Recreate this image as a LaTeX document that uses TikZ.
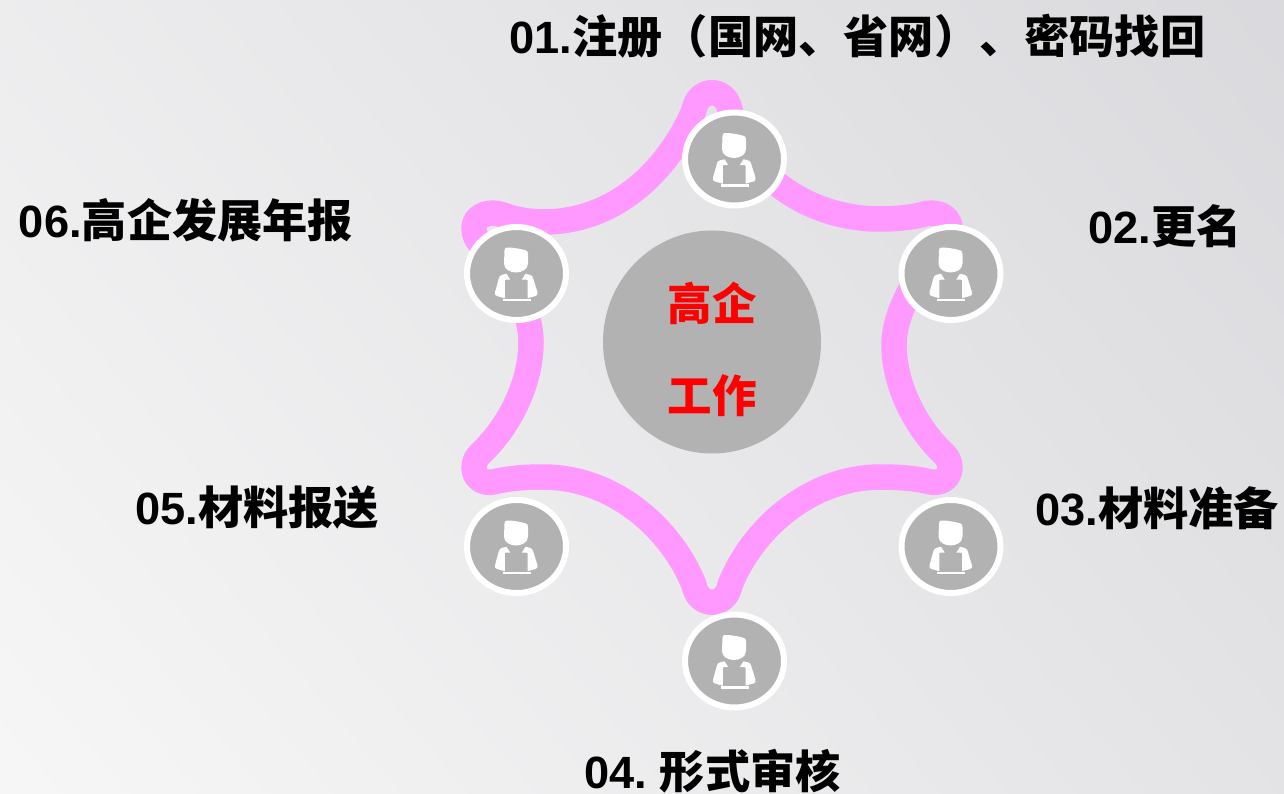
\documentclass[tikz,border=0pt]{standalone}
\usepackage{fontspec}
\usetikzlibrary{shapes.geometric}
\setmainfont{Liberation Sans}
\newfontfamily\cjk{Noto Sans CJK SC}
\definecolor{pinkband}{HTML}{FF99FF}
\definecolor{discgray}{HTML}{B2B2B2}
\definecolor{bgdark}{HTML}{D8D8DC}
\definecolor{bglight}{HTML}{F8F8F8}
\newcommand{\lab}[2]{{\frenchspacing\bfseries #1\cjk\bfseries #2}}
\tikzset{
  label text/.style={font=\fontsize{45.2}{50}\selectfont, text=black, inner sep=0pt},
  core text/.style={font=\fontsize{44.5}{50}\selectfont, text=red, inner sep=0pt},
  person/.style={ellipse, draw=white, line width=6pt, fill=discgray, minimum width=99pt, minimum height=93pt, inner sep=0pt},
  band/.style={draw=pinkband, line width=25.5pt, line join=round, line cap=round},
  pics/usericon/.style={code={
    \fill[white] (-12,-23) .. controls (-12,-25.5) and (-11,-26) .. (-9,-26) .. controls (-3,-26) and (5,-24.5) .. (9.5,-23)
       .. controls (10.8,-22.5) and (11.5,-21.5) .. (11.5,-19.5) -- (11.5,-10) .. controls (11.5,-4) and (5,-1) .. (-0.5,-1)
       .. controls (-6,-1) and (-12.5,-4) .. (-12.5,-10) -- cycle;
    \fill[white] (-6.3,6) -- (-10,0.3) -- (-14.5,1.3) .. controls (-16.5,2) and (-17,3) .. (-17.5,4.3) -- (-21.5,18.7)
       .. controls (-22,21) and (-21,22) .. (-19.5,22.5) -- (-11.7,24.7) -- (-11.7,6.3) -- cycle;
    \fill[white] (5.3,6) -- (9,0.3) -- (13.5,1.3) .. controls (15.5,2) and (16,3) .. (16.5,4.3) -- (21,18.7)
       .. controls (21.5,21) and (20.5,22) .. (19,22.5) -- (11,24.7) -- (11,6.3) -- cycle;
    \fill[white] (-14,25) rectangle (14.3,27.7);
  }}
}
\begin{document}
\begin{tikzpicture}[x=1pt,y=-1pt]
\useasboundingbox (0,0) rectangle (1284,794);
\begin{scope}
\clip (0,0) rectangle (1284,794);
\shade[bottom color=bglight, top color=bgdark, shading angle=-50] (-300,-300) rectangle (1584,1094);
\end{scope}
% star band
\draw[band]
 (694,110) .. controls (678,150) and (630,221) .. (545,222)
 .. controls (530,222) and (517,220) .. (503,215)
 .. controls (490,210) and (474,215) .. (474,228)
 .. controls (474,234) and (476,238) .. (479,242)
 .. controls (505,270) and (531,305) .. (531,342)
 .. controls (531,385) and (508,428) .. (480,454)
 .. controls (469,464) and (473,485) .. (493,482)
 .. controls (510,478) and (527,477) .. (543,477)
 .. controls (615,477) and (672,530) .. (694,585)
 .. controls (698,608) and (726,608) .. (730,585)
 .. controls (752,530) and (809,477) .. (881,477)
 .. controls (897,477) and (914,478) .. (931,482)
 .. controls (951,485) and (955,464) .. (944,454)
 .. controls (916,428) and (894,385) .. (894,345)
 .. controls (894,310) and (920,270) .. (945,242)
 .. controls (948,238) and (950,234) .. (950,228)
 .. controls (950,215) and (934,210) .. (921,215)
 .. controls (907,218) and (893,219) .. (879,219)
 .. controls (840,219) and (800,205) .. (770,178)
 .. controls (750,160) and (738,135) .. (730,110)
 .. controls (726,87) and (698,87) .. (694,110) -- cycle;
% centre
\node[ellipse,fill=discgray,minimum width=218pt,minimum height=223pt,inner sep=0pt] (core) at (712,342) {};
\node[core text] (t1) at (712,303) {\cjk\bfseries 高企};
\node[core text] (t2) at (712,396) {\cjk\bfseries 工作};
% people
\node[person] (p1) at (734.5,159) {};
\node[person] (p2) at (951,273.5) {};
\node[person] (p3) at (951,546.5) {};
\node[person] (p4) at (734.5,661) {};
\node[person] (p5) at (516.5,546.5) {};
\node[person] (p6) at (516.5,273.5) {};
\foreach \n in {p1,p2,p3,p4,p5,p6} \pic at (\n.center) {usericon};
% labels
\node[label text] (l1) at (857.5,36) {\lab{01.}{注册（国网、省网）、密码找回}};
\node[label text] (l2) at (1165,226) {\lab{02.}{更名}};
\node[label text] (l3) at (1157,508) {\lab{03.}{材料准备}};
\node[label text] (l4) at (712.5,771) {\lab{04. }{形式审核}};
\node[label text] (l5) at (257,508) {\lab{05.}{材料报送}};
\node[label text] (l6) at (186,220) {\lab{06.}{高企发展年报}};
\end{tikzpicture}
\end{document}
